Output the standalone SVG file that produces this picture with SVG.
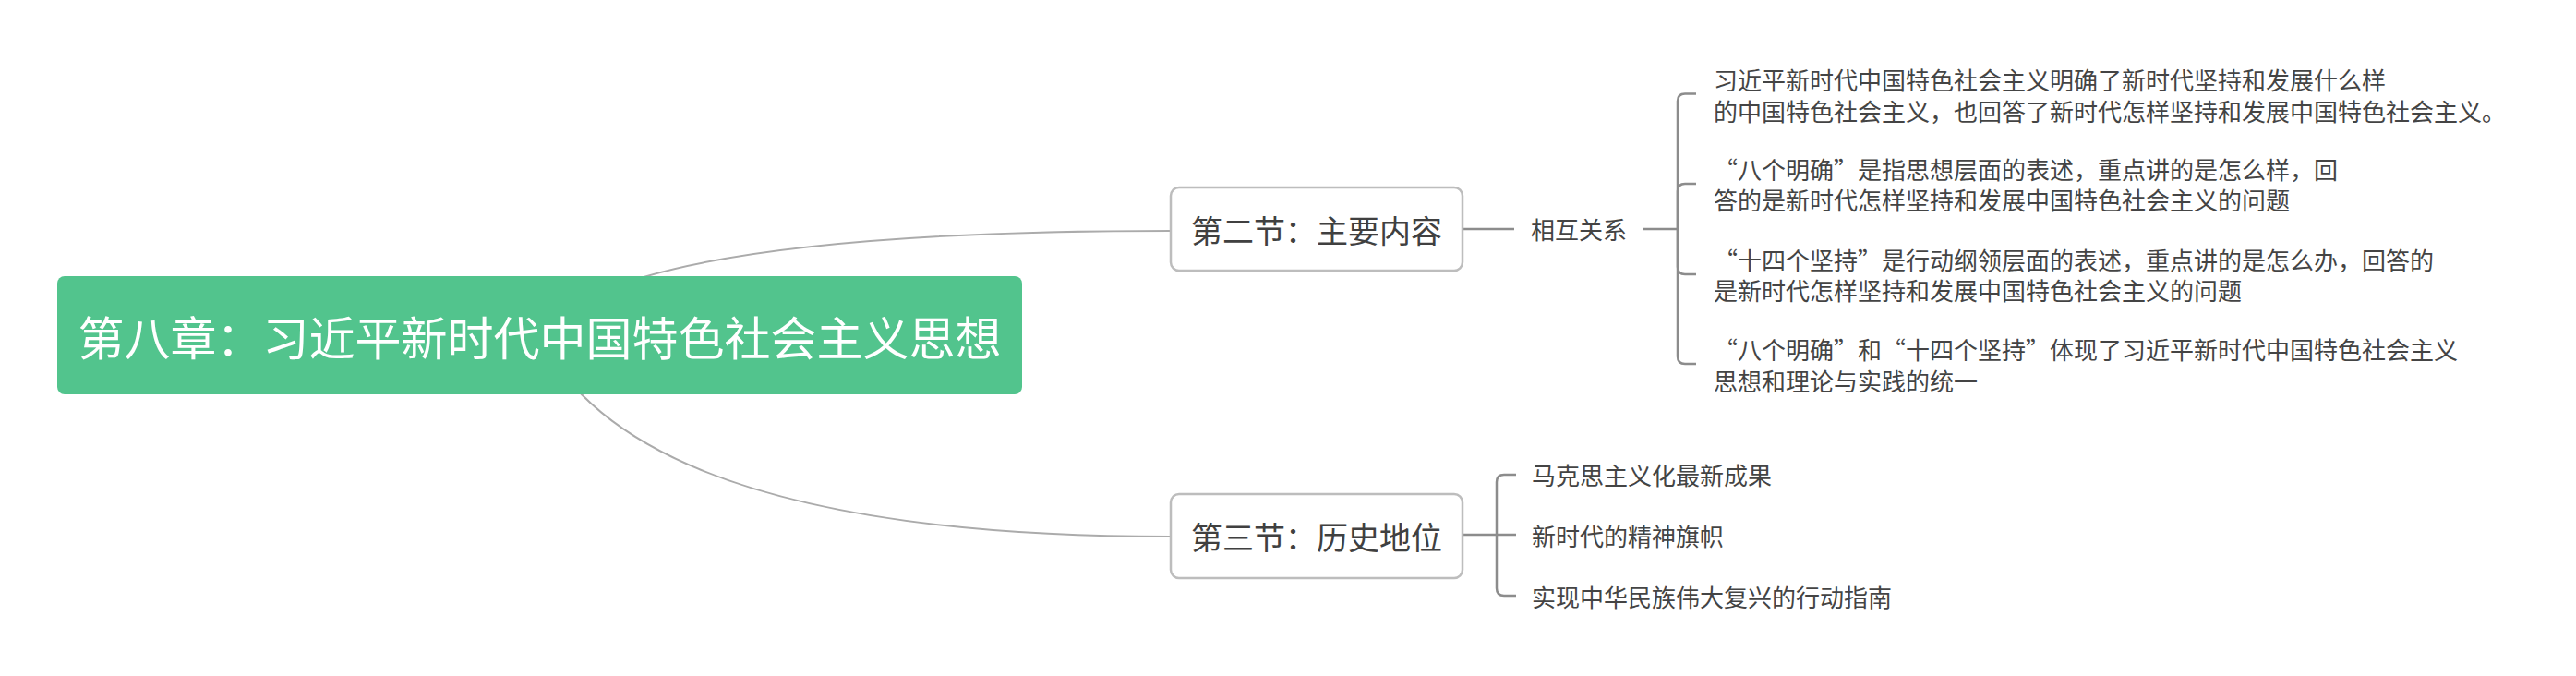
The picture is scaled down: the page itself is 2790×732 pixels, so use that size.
<svg xmlns="http://www.w3.org/2000/svg" width="2790" height="732" viewBox="0 0 2790 732">
<style>
text{font-family:"Noto Sans CJK SC","Liberation Sans",sans-serif;dominant-baseline:central}
.root{fill:#52C48D}
.rootT{fill:#ffffff;font-size:50px}
.box{fill:#ffffff;stroke:#bdbdbd;stroke-width:2.5}
.secT{fill:#404040;font-size:34px}
.leaf{fill:#444444;font-size:26px}
.curve{fill:none;stroke:#ababab;stroke-width:2}
.ln{fill:none;stroke:#8c8c8c;stroke-width:2.5}
</style>
<rect width="2790" height="732" fill="#ffffff"/>
<g id="connectors">
<path class="curve" d="M584 363 Q665 250 1268 250"/>
<path class="curve" d="M584 363 Q690 581 1268 581"/>
<path class="ln" d="M1584 248 H1640"/>
<path class="ln" d="M1780 248 H1817"/>
<path class="ln" d="M1817 248 V109.5 Q1817 101.5 1825 101.5 H1837"/>
<path class="ln" d="M1817 248 V207 Q1817 199 1825 199 H1837"/>
<path class="ln" d="M1817 248 V289 Q1817 297 1825 297 H1837"/>
<path class="ln" d="M1817 248 V386 Q1817 394 1825 394 H1837"/>
<path class="ln" d="M1584 579 H1642"/>
<path class="ln" d="M1621 579 V522 Q1621 514 1629 514 H1642"/>
<path class="ln" d="M1621 579 V637 Q1621 645 1629 645 H1642"/>
</g>
<g id="root">
<rect class="root" x="62" y="299" width="1045" height="128" rx="8"/>
<text class="rootT" x="584.5" y="363" text-anchor="middle">第八章：习近平新时代中国特色社会主义思想</text>
</g>
<g id="sec2">
<rect class="box" x="1268" y="203" width="316" height="90" rx="9"/>
<text class="secT" x="1426" y="248" text-anchor="middle">第二节：主要内容</text>
</g>
<g id="relation">
<text class="leaf" x="1658" y="247">相互关系</text>
</g>
<g id="rel1">
<text class="leaf" x="1856" y="85">习近平新时代中国特色社会主义明确了新时代坚持和发展什么样</text>
<text class="leaf" x="1856" y="119">的中国特色社会主义，也回答了新时代怎样坚持和发展中国特色社会主义。</text>
</g>
<g id="rel2">
<text class="leaf" x="1856" y="182">“八个明确”是指思想层面的表述，重点讲的是怎么样，回</text>
<text class="leaf" x="1856" y="215">答的是新时代怎样坚持和发展中国特色社会主义的问题</text>
</g>
<g id="rel3">
<text class="leaf" x="1856" y="280">“十四个坚持”是行动纲领层面的表述，重点讲的是怎么办，回答的</text>
<text class="leaf" x="1856" y="313">是新时代怎样坚持和发展中国特色社会主义的问题</text>
</g>
<g id="rel4">
<text class="leaf" x="1856" y="377">“八个明确”和“十四个坚持”体现了习近平新时代中国特色社会主义</text>
<text class="leaf" x="1856" y="411">思想和理论与实践的统一</text>
</g>
<g id="sec3">
<rect class="box" x="1268" y="535" width="316" height="91" rx="9"/>
<text class="secT" x="1426" y="580" text-anchor="middle">第三节：历史地位</text>
</g>
<g id="pos1">
<text class="leaf" x="1659" y="513">马克思主义化最新成果</text>
</g>
<g id="pos2">
<text class="leaf" x="1659" y="579">新时代的精神旗帜</text>
</g>
<g id="pos3">
<text class="leaf" x="1659" y="645">实现中华民族伟大复兴的行动指南</text>
</g>
</svg>
